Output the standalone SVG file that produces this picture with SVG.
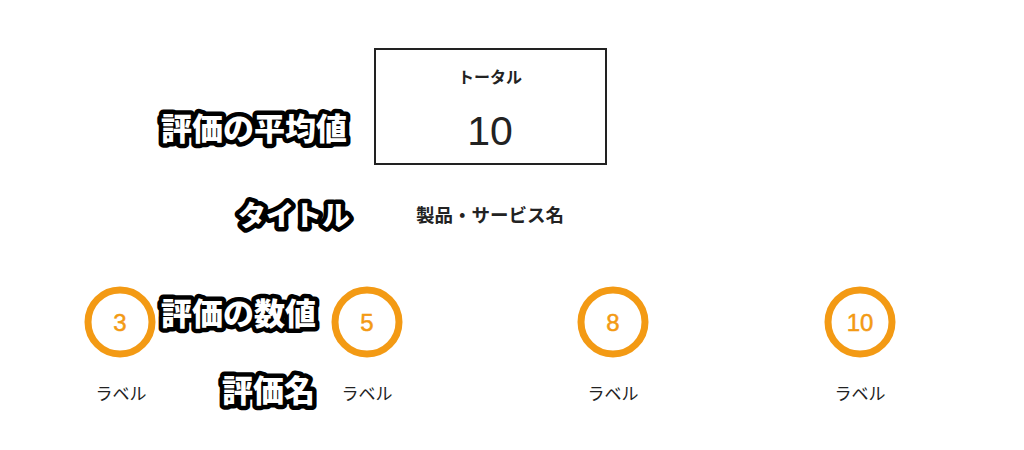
<svg xmlns="http://www.w3.org/2000/svg" width="1024" height="450" viewBox="0 0 1024 450">
<style>
.ann{font-family:"Noto Sans CJK JP","Noto Sans",sans-serif;font-weight:900;fill:#fff;stroke:#000;stroke-width:9;stroke-linejoin:round;paint-order:stroke;font-size:31px}
.lbl{font-family:"Noto Sans CJK JP","Noto Sans",sans-serif;font-size:17px;fill:#222;text-anchor:middle}
.num{font-family:"Liberation Sans","Noto Sans CJK JP",sans-serif;font-size:24px;fill:#f39a14;stroke:#f39a14;stroke-width:0.5;text-anchor:middle}
.ring{fill:#fff;stroke:#f39a14;stroke-width:7}
</style>
<rect width="1024" height="450" fill="#fff"/>
<g id="total">
<rect x="375" y="49" width="231" height="115" fill="#fff" stroke="#222" stroke-width="2"/>
<text x="490" y="83" class="lbl" style="font-weight:700;font-size:16px">トータル</text>
<text x="490" y="145" style="font-family:'Liberation Sans',sans-serif;font-size:41px;fill:#222;text-anchor:middle">10</text>
</g>
<g id="title">
<text x="490" y="222" class="lbl" style="font-weight:700;font-size:18.5px">製品・サービス名</text>
</g>
<g id="r1"><circle cx="120" cy="322" r="32" class="ring"/><text x="120" y="331" class="num">3</text><text x="121" y="400" class="lbl">ラベル</text></g>
<g id="r2"><circle cx="367" cy="322" r="32" class="ring"/><text x="367" y="331" class="num">5</text><text x="367" y="400" class="lbl">ラベル</text></g>
<g id="r3"><circle cx="613" cy="322" r="32" class="ring"/><text x="613" y="331" class="num">8</text><text x="613" y="400" class="lbl">ラベル</text></g>
<g id="r4"><circle cx="860" cy="322" r="32" class="ring"/><text x="860" y="331" class="num">10</text><text x="860" y="400" class="lbl">ラベル</text></g>
<g id="annotations">
<text x="161" y="140" class="ann">評価の平均値</text>
<text x="238" y="226" class="ann" style="font-size:28px">タイトル</text>
<text x="161" y="325" class="ann">評価の数値</text>
<text x="222" y="402" class="ann">評価名</text>
</g>
<g id="connectors"/>
</svg>
